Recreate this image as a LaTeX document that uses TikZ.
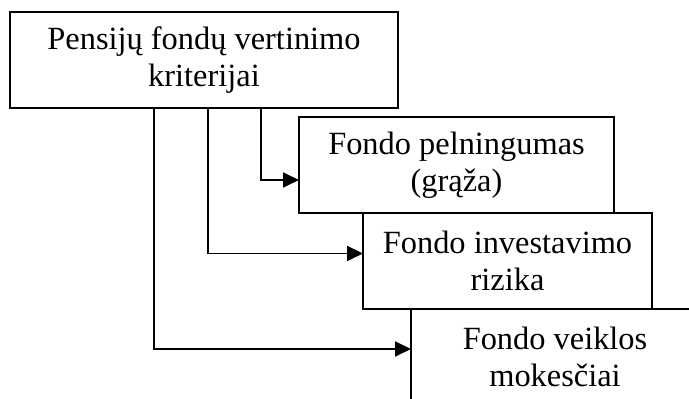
\documentclass[tikz,border=0pt]{standalone}
\usepackage{fontspec}
\setmainfont{Liberation Serif}
\usepackage{tikz}
\usetikzlibrary{arrows.meta, positioning}
\tikzset{
    block/.style={rectangle, draw, line width=1pt, fill=white, align=center, inner sep=0pt, outer sep=0pt, minimum height=48pt, font=\fontsize{16.2}{18.4}\selectfont},
    arrow/.style={line width=0.9pt, -{Triangle[length=8pt, width=7.5pt]}}
}
\begin{document}
\begin{tikzpicture}

    % Page frame
    \path[use as bounding box, clip] (0,0) rectangle (344.5pt,-199.5pt);

    % Boxes
    \node[block, minimum width=194pt, anchor=north west] (A) at (5pt,-6pt) {Pensijų fondų vertinimo\\kriterijai};
    \node[block, minimum width=157.5pt, below right=4.5pt and 144.5pt of A.south west] (B) {Fondo pelningumas\\(grąža)};
    \node[block, minimum width=144.5pt, below right=0pt and 32pt of B.south west] (C) {Fondo investavimo\\rizika};
    \node[block, minimum width=144pt, below right=0pt and 24pt of C.south west] (D) {Fondo veiklos\\mokesčiai};

    % Arrows
    \draw[arrow] ([xshift=125.5pt]A.south west) |- ([yshift=-7.5pt]B.west);
    \draw[arrow] ([xshift=99pt]A.south west) |- ([yshift=3.75pt]C.west);
    \draw[arrow] ([xshift=72pt]A.south west) |- ([yshift=4pt]D.west);

\end{tikzpicture}
\end{document}
